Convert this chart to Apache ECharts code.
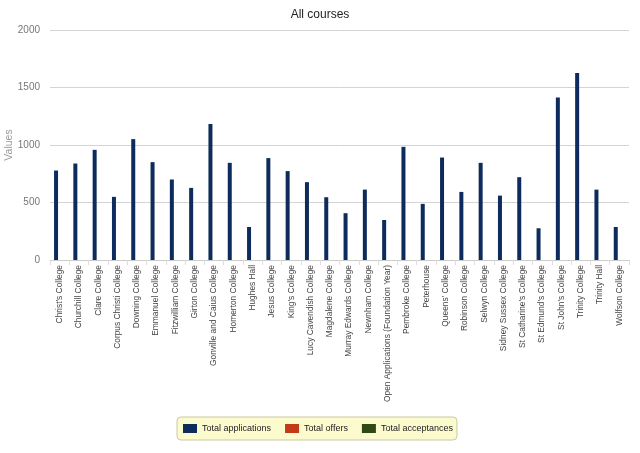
<!DOCTYPE html>
<html>
<head>
<meta charset="utf-8">
<script src="https://cdn.jsdelivr.net/npm/echarts@6/dist/echarts.min.js"></script>
<style>
html,body{margin:0;padding:0;background:#fff;}
#chart{width:640px;height:453px;}
</style>
</head>
<body>
<div id="chart"></div>
<script>
const colleges = ["Christ's College","Churchill College","Clare College","Corpus Christi College","Downing College","Emmanuel College","Fitzwilliam College","Girton College","Gonville and Caius College","Homerton College","Hughes Hall","Jesus College","King's College","Lucy Cavendish College","Magdalene College","Murray Edwards College","Newnham College","Open Applications (Foundation Year)","Pembroke College","Peterhouse","Queens' College","Robinson College","Selwyn College","Sidney Sussex College","St Catharine's College","St Edmund's College","St John's College","Trinity College","Trinity Hall","Wolfson College"];
const totalApplications = [778,839,958,549,1051,851,700,627,1182,845,287,886,773,677,546,407,612,348,984,488,891,592,845,560,720,276,1413,1626,612,287];
const totalOffers = [0,0,0,0,0,0,0,0,0,0,0,0,0,0,0,0,0,0,0,0,0,0,0,0,0,0,0,0,0,0];
const totalAcceptances = [0,0,0,0,0,0,0,0,0,0,0,0,0,0,0,0,0,0,0,0,0,0,0,0,0,0,0,0,0,0];
const yTicks = [0,500,1000,1500,2000];

const chart = echarts.init(document.getElementById('chart'), null, {renderer:'canvas'});
const font = 'Liberation Sans, Arial, sans-serif';
chart.setOption({
  animation:false,
  textStyle:{fontFamily:font},
  title:{text:'All courses',left:'center',top:4,textStyle:{fontSize:12,fontWeight:'normal',color:'#222',fontFamily:font}},
  grid:{left:50,right:11,top:30,bottom:193,containLabel:false,outerBoundsMode:'none'},
  legend:{
    left:177, top:417,
    backgroundColor:'#fbfbcd', borderColor:'#c9c9a3', borderWidth:1, borderRadius:4,
    padding:[7,4,7,6], itemGap:14, itemWidth:14, itemHeight:9, icon:'rect',
    textStyle:{fontSize:9,color:'#222',fontFamily:font},
    data:['Total applications','Total offers','Total acceptances']
  },
  xAxis:{
    type:'category', data:colleges,
    axisLine:{lineStyle:{color:'#ccc'}},
    axisTick:{show:true,alignWithLabel:false,length:5,lineStyle:{color:'#ddd'}},
    axisLabel:{rotate:90,interval:0,fontSize:8.4,color:'#444',margin:5,fontFamily:font}
  },
  yAxis:{
    type:'value', min:yTicks[0], max:yTicks[yTicks.length-1], interval:500,
    name:'Values', nameLocation:'middle', nameGap:35, nameRotate:90, nameMoveOverlap:false,
    nameTextStyle:{color:'#999',fontSize:10.5,fontFamily:font},
    axisLine:{show:false}, axisTick:{show:false},
    axisLabel:{color:'#777',fontSize:10,margin:10,fontFamily:font,formatter:function(v){return String(v);}},
    splitLine:{lineStyle:{color:'#d4d4d4'}}
  },
  series:[
    {name:'Total applications',type:'bar',data:totalApplications,barWidth:4,barGap:'-10%',itemStyle:{color:'#0d2b5c'}},
    {name:'Total offers',type:'bar',data:totalOffers,barWidth:4,barGap:'-10%',itemStyle:{color:'#c23b17'}},
    {name:'Total acceptances',type:'bar',data:totalAcceptances,barWidth:4,barGap:'-10%',itemStyle:{color:'#2f4815'}}
  ]
});
</script>
</body>
</html>
